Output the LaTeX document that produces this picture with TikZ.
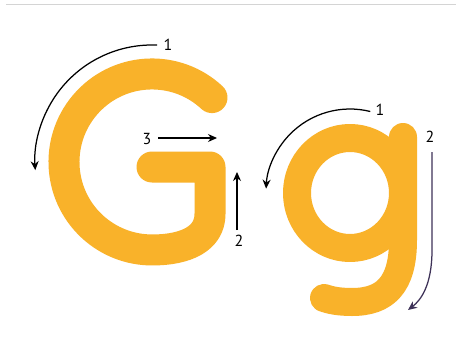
\documentclass[tikz,border=0pt]{standalone}
\usepackage{fontspec}
\setmainfont{PT Sans}
\usetikzlibrary{arrows.meta}
\definecolor{gold}{RGB}{249,178,42}
\definecolor{rule}{RGB}{212,212,212}
\definecolor{darkline}{RGB}{62,50,88}
\begin{document}
\begin{tikzpicture}[x=1pt,y=-1pt,
  bigstroke/.style={draw=gold,line width=31pt,line cap=round,line join=round},
  smallstroke/.style={draw=gold,line width=28pt,line cap=round,line join=round},
  guide/.style={draw=black,line width=1.25pt,-{Stealth[length=9pt,width=8pt]}},
  num/.style={font=\fontsize{16}{18}\selectfont,inner sep=0pt,text=black}]
\fill[white] (0,0) rectangle (456,359);
\useasboundingbox (0,0) rectangle (456,359);
\draw[rule,line width=1pt] (6,4) -- (456,4);
% capital G
\draw[bigstroke] (212.0,97.6) arc[start angle=-47,end angle=-270,radius=88]
  .. controls (187,250) and (210,238) .. (210,214) -- (210,167) -- (152,167);
% small g
\draw[smallstroke] (350,193) ellipse[x radius=53,y radius=55];
\draw[smallstroke] (403,137) -- (403,240) .. controls (403,285) and (385,302) .. (352,302)
  .. controls (338,302) and (330,300) .. (324,298);
% labels
\node[num] (n1G) at (168,45) {1};
\node[num] (n3G) at (147,139) {3};
\node[num] (n2G) at (239,241) {2};
\node[num] (n1g) at (380,110) {1};
\node[num] (n2g) at (430,137) {2};
% connector ends
\coordinate (a1s) at (157.1,45.1);
\coordinate (a3s) at (158,138);
\coordinate (a3e) at (217,138);
\coordinate (a2s) at (237,230);
\coordinate (a2e) at (237,172);
\coordinate (b1s) at (370.3,111.5);
\coordinate (b2s) at (432,152);
\coordinate (b2e) at (408,310);
% arrows
\draw[guide] (a1s) arc[start angle=-87.5,end angle=-184,radius=117];
\draw[guide] (a3s) -- (a3e);
\draw[guide] (a2s) -- (a2e);
\draw[guide] (b1s) arc[start angle=-76,end angle=-177,radius=84];
\draw[guide,draw=darkline] (b2s) -- (432,250) .. controls (432,285) and (421,300) .. (b2e);
\end{tikzpicture}
\end{document}
